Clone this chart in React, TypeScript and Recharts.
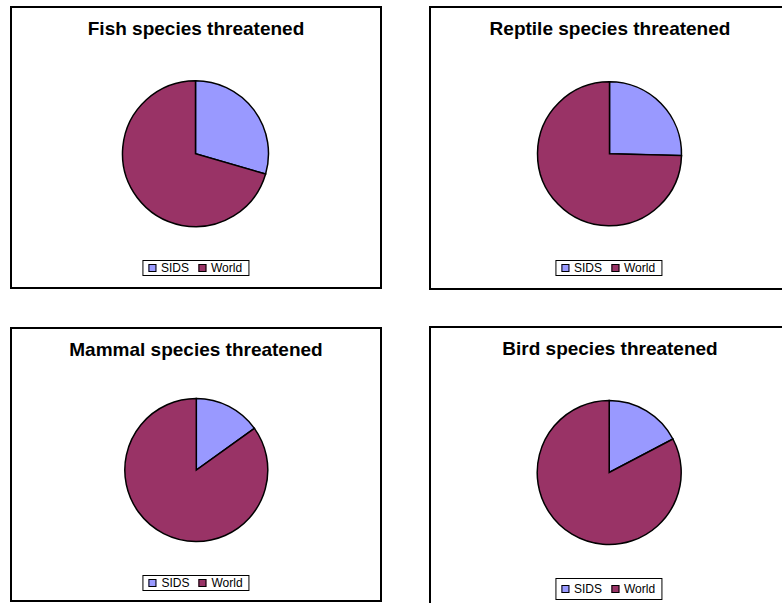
import React from 'react';
import { PieChart, Pie, Cell, Legend } from 'recharts';

// slice names and colours
const categories = ['SIDS', 'World'];
const COLORS = ['#9999FF', '#993366'];

// share of threatened species (%)
const fishValues = [29.5, 70.5];
const reptileValues = [25.4, 74.6];
const mammalValues = [15.1, 84.9];
const birdValues = [17.3, 82.7];

const titles = [
  'Fish species threatened',
  'Reptile species threatened',
  'Mammal species threatened',
  'Bird species threatened',
];

interface PanelProps {
  title: string;
  values: number[];
  left: number;
  top: number;
  width: number;
  height: number;
  cx: number;
  cy: number;
  r: number;
  legendTop: number;
  legendH: number;
  legendX: number;
}

const LegendBox: React.FC<{ h: number; x: number; w: number }> = ({ h, x, w }) => (
  <div style={{ position: 'relative', width: w, height: h }}>
    <div
      style={{
        position: 'absolute',
        left: x,
        transform: 'translateX(-50%)',
        height: h,
        boxSizing: 'border-box',
        border: '1px solid #000',
        background: '#fff',
        display: 'flex',
        alignItems: 'center',
        padding: '0 6px 0 5px',
        fontFamily: '"Liberation Sans", Arial, sans-serif',
        fontSize: 12,
        color: '#000',
        whiteSpace: 'nowrap',
      }}
    >
      {categories.map((c, i) => (
        <span key={c} style={{ display: 'flex', alignItems: 'center', marginLeft: i ? 9 : 0 }}>
          <span
            style={{
              display: 'inline-block',
              width: 6,
              height: 6,
              background: COLORS[i],
              border: '1px solid #000',
              marginRight: 5,
            }}
          />
          {c}
        </span>
      ))}
    </div>
  </div>
);

const Panel: React.FC<PanelProps> = (p) => {
  const data = categories.map((name, i) => ({ name, value: p.values[i] }));
  return (
    <div style={{ position: 'absolute', left: p.left, top: p.top, width: p.width, height: p.height, background: '#fff' }}>
      <PieChart
        width={p.width}
        height={p.height}
        margin={{ top: 0, right: 0, bottom: 0, left: 0 }}
        style={{ position: 'absolute', left: 0, top: 0 }}
      >
        <Pie
          data={data}
          dataKey="value"
          nameKey="name"
          cx={p.cx}
          cy={p.cy}
          outerRadius={p.r}
          startAngle={90}
          endAngle={-270}
          stroke="#000"
          strokeWidth={1.5}
          isAnimationActive={false}
        >
          {data.map((d, i) => (
            <Cell key={d.name} fill={COLORS[i]} />
          ))}
        </Pie>
        <Legend
          verticalAlign="bottom"
          wrapperStyle={{ top: p.legendTop, bottom: 'auto', left: 0, width: p.width }}
          content={() => <LegendBox h={p.legendH} x={p.legendX} w={p.width} />}
        />
      </PieChart>
      <div
        style={{
          position: 'absolute',
          left: 0,
          top: 12,
          width: p.width,
          textAlign: 'center',
          fontFamily: '"Liberation Sans", Arial, sans-serif',
          fontWeight: 'bold',
          fontSize: 19,
          lineHeight: '22px',
          color: '#000',
        }}
      >
        {p.title}
      </div>
      <div
        style={{
          position: 'absolute',
          left: 0,
          top: 0,
          width: p.width,
          height: p.height,
          boxSizing: 'border-box',
          border: '2px solid #000',
          pointerEvents: 'none',
        }}
      />
    </div>
  );
};

const App: React.FC = () => (
  <div style={{ position: 'fixed', left: 0, top: 0, width: 782, height: 603, overflow: 'hidden', background: '#fff' }}>
    <Panel title={titles[0]} values={fishValues} left={10} top={6} width={372} height={283}
      cx={185.5} cy={147.7} r={73} legendTop={254} legendH={16} legendX={185.5} />
    <Panel title={titles[1]} values={reptileValues} left={429} top={6} width={362} height={284}
      cx={180.5} cy={147.8} r={72} legendTop={254} legendH={16} legendX={179.5} />
    <Panel title={titles[2]} values={mammalValues} left={10} top={327} width={372} height={275}
      cx={186.3} cy={143} r={71.5} legendTop={248} legendH={16} legendX={186} />
    <Panel title={titles[3]} values={birdValues} left={429} top={326} width={362} height={292}
      cx={180.2} cy={146.5} r={72} legendTop={252} legendH={22} legendX={179.5} />
  </div>
);

export default App;
